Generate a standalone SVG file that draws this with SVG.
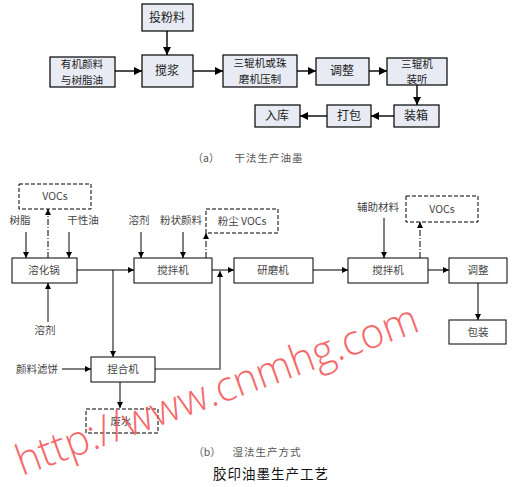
<svg xmlns="http://www.w3.org/2000/svg" width="532" height="487" viewBox="0 0 532 487">
<defs>
<marker id="ah" viewBox="0 0 10 10" refX="10" refY="5" markerWidth="8" markerHeight="8" markerUnits="userSpaceOnUse" orient="auto"><path d="M0,0 L10,5 L0,10 z" fill="#000"/></marker>
<marker id="as" viewBox="0 0 10 10" refX="10" refY="5" markerWidth="6" markerHeight="6" markerUnits="userSpaceOnUse" orient="auto"><path d="M0,0 L10,5 L0,10 z" fill="#000"/></marker>
</defs>
<style>
text{font-family:"Noto Sans CJK SC","Liberation Sans",sans-serif;text-anchor:middle}
.a rect{fill:#e8ebf3;stroke:#000;stroke-width:1.2}
.a text{font-size:12px;fill:#222}
.a text.s{font-size:10.6px}
.b rect{fill:#fff;stroke:#000;stroke-width:1}
.b text,.lbl{font-size:10.5px;fill:#444}
.d rect{fill:#fff;stroke:#000;stroke-width:1;stroke-dasharray:4 2}
.ca{stroke:#000;stroke-width:1.4;fill:none;marker-end:url(#ah)}
.cb{stroke:#000;stroke-width:1;fill:none;marker-end:url(#as)}
.cg{stroke:#666;stroke-width:1.6;fill:none;marker-end:url(#as)}
.dd{stroke:#000;stroke-width:1;fill:none;stroke-dasharray:6 2 1 2;marker-end:url(#as)}
.cap{font-size:10.5px;fill:#555}
</style>
<rect width="532" height="487" fill="#fff"/>
<g id="connectors">
<line class="ca" x1="167" y1="31" x2="167" y2="55"/>
<line class="ca" x1="115" y1="71" x2="142" y2="71"/>
<line class="ca" x1="193" y1="71" x2="223" y2="71"/>
<line class="ca" x1="297" y1="71" x2="316" y2="71"/>
<line class="ca" x1="369" y1="71" x2="387" y2="71"/>
<line class="ca" x1="417" y1="85" x2="417" y2="105"/>
<line class="ca" x1="394" y1="116" x2="371" y2="116"/>
<line class="ca" x1="327" y1="116" x2="300" y2="116"/>
<line class="cb" x1="26" y1="232" x2="26" y2="258"/>
<line class="cb" x1="69" y1="232" x2="69" y2="258"/>
<line class="dd" x1="48" y1="258" x2="48" y2="209"/>
<line class="cg" x1="48" y1="322" x2="48" y2="283"/>
<polyline class="cb" points="77,270 134,270"/>
<polyline class="cb" points="113,270 113,357"/>
<line class="cb" x1="141" y1="232" x2="141" y2="258"/>
<line class="cb" x1="183" y1="232" x2="183" y2="258"/>
<line class="dd" x1="206" y1="258" x2="206" y2="233"/>
<line class="cb" x1="212" y1="270" x2="234" y2="270"/>
<polyline class="cg" points="155,369 220,369 220,271"/>
<line class="cb" x1="313" y1="270" x2="348" y2="270"/>
<line class="cb" x1="384" y1="218" x2="384" y2="258"/>
<line class="dd" x1="420" y1="258" x2="420" y2="222"/>
<line class="cb" x1="428" y1="270" x2="449" y2="270"/>
<line class="cb" x1="478" y1="283" x2="478" y2="320"/>
<line class="cb" x1="62" y1="369" x2="91" y2="369"/>
<line class="cb" x1="120" y1="382" x2="120" y2="408"/>
</g>
<g class="a">
<g id="tfl"><rect x="142" y="4" width="51" height="27"/><text x="167" y="22">投粉料</text></g>
<g id="yjyl"><rect x="50" y="57" width="65" height="30"/><text class="s" x="82" y="68">有机颜料</text><text class="s" x="82" y="83.5">与树脂油</text></g>
<g id="jj"><rect x="142" y="55" width="51" height="32"/><text x="167" y="75">搅浆</text></g>
<g id="sgj"><rect x="223" y="55" width="74" height="32"/><text class="s" x="260" y="67">三辊机或珠</text><text class="s" x="260" y="82.5">磨机压制</text></g>
<g id="tz1"><rect x="316" y="58" width="53" height="27"/><text x="342" y="75">调整</text></g>
<g id="sgjzt"><rect x="387" y="58" width="60" height="27"/><text class="s" x="417" y="67.5">三辊机</text><text class="s" x="417" y="83">装听</text></g>
<g id="zx"><rect x="394" y="105" width="45" height="22"/><text x="416" y="120">装箱</text></g>
<g id="db"><rect x="327" y="105" width="44" height="22"/><text x="349" y="120">打包</text></g>
<g id="rk"><rect x="255" y="105" width="45" height="22"/><text x="277" y="120">入库</text></g>
</g>
<text class="cap" x="206" y="162">（a）</text>
<text class="cap" x="269" y="162" style="letter-spacing:1px">干法生产油墨</text>
<g class="d">
<g id="vocs1"><rect x="19" y="184" width="72" height="25"/><text class="lbl" x="55" y="200">VOCs</text></g>
<g id="fcvocs"><rect x="206" y="209" width="72" height="24"/><text class="lbl" x="242" y="225">粉尘 VOCs</text></g>
<g id="vocs2"><rect x="406" y="196" width="72" height="26"/><text class="lbl" x="442" y="213">VOCs</text></g>
<g id="fs"><rect x="86" y="409" width="72" height="24"/><text class="lbl" x="121" y="425">废水</text></g>
</g>
<g class="lbls">
<text class="lbl" x="20" y="224">树脂</text>
<text class="lbl" x="83" y="224">干性油</text>
<text class="lbl" x="45" y="334">溶剂</text>
<text class="lbl" x="139" y="224">溶剂</text>
<text class="lbl" x="181" y="224">粉状颜料</text>
<text class="lbl" x="378" y="211">辅助材料</text>
<text class="lbl" x="37" y="373">颜料滤饼</text>
</g>
<g class="b">
<g id="rhg"><rect x="12" y="258" width="65" height="25"/><text x="44" y="274">溶化锅</text></g>
<g id="jbj1"><rect x="134" y="258" width="78" height="25"/><text x="173" y="274">搅拌机</text></g>
<g id="ymj"><rect x="234" y="258" width="79" height="25"/><text x="273" y="274">研磨机</text></g>
<g id="jbj2"><rect x="348" y="258" width="80" height="25"/><text x="388" y="274">搅拌机</text></g>
<g id="tz2"><rect x="449" y="258" width="58" height="25"/><text x="478" y="274">调整</text></g>
<g id="bz"><rect x="449" y="320" width="57" height="24"/><text x="478" y="336">包装</text></g>
<g id="nhj"><rect x="91" y="357" width="64" height="25"/><text x="123" y="373">捏合机</text></g>
</g>
<text class="cap" x="207" y="456">（b）</text>
<text class="cap" x="267" y="456" style="letter-spacing:1px">湿法生产方式</text>
<text x="271" y="479" style="font-size:13.5px;fill:#111;letter-spacing:1px">胶印油墨生产工艺</text>
<text x="0" y="0" transform="translate(22,476) rotate(-20)" textLength="425" lengthAdjust="spacingAndGlyphs" style="font-family:'Open Sans','Liberation Sans',sans-serif;font-weight:300;font-size:42px;fill:#f4595c;text-anchor:start;opacity:0.9">http://www.cnmhg.com</text>
</svg>
